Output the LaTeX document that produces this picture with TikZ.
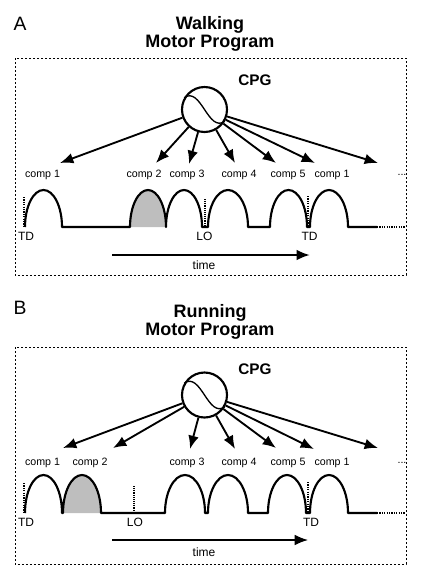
\documentclass[tikz,border=0pt]{standalone}
\usepackage{fontspec}
\setmainfont{Liberation Sans}
\usepackage{xcolor}
\usetikzlibrary{arrows.meta}

\begin{document}
\begin{tikzpicture}[x=0.75pt,y=0.75pt,yscale=-1,xscale=1,
  osc/.style={circle,draw,line width=1.6pt,minimum size=33.75pt,inner sep=0pt},
  fire/.style={-{Latex[length=10pt,width=8pt]},line width=1.4pt},
  trace/.style={line width=1.6pt,line join=round},
  frame/.style={dash pattern={on 1.8pt off 1.2pt},line width=0.7pt},
  tdmark/.style={dash pattern={on 0.9pt off 0.9pt},line width=1.6pt},
  lomark/.style={dash pattern={on 0.7pt off 0.7pt},line width=0.8pt},
  ttl/.style={font=\fontsize{13.5}{16}\selectfont\bfseries},
  pnl/.style={font=\fontsize{14.5}{16}\selectfont},
  cpg/.style={font=\fontsize{11.5}{13}\selectfont\bfseries},
  comp/.style={font=\fontsize{8}{9}\selectfont,inner sep=0.75pt},
  evt/.style={font=\fontsize{9}{10}\selectfont,inner sep=0.75pt}]
\useasboundingbox (0,0) rectangle (437,572);

%%%%%%%%%%%%%%%% Panel A
% Text Node
\node [pnl] (panA) at (20,24) {A};
\node [ttl] (ttlA1) at (210,25) {Walking};
\node [ttl] (ttlA2) at (210,43) {Motor Program};
%Dashed frame
\draw [frame] (15,58) rectangle (406,275);
% CPG
\node [cpg] (cpgtxtA) at (255,80.5) {CPG};
\node [osc] (cpgA) at (204.5,109.5) {};
\draw [line width=1pt] (cpgA.150) .. controls +(17,-12) and +(-17,12) .. (cpgA.-30);
% arrow tips
\coordinate (tipA1) at (60,163);
\coordinate (tipA2) at (156,163);
\coordinate (tipA3) at (189,164);
\coordinate (tipA4) at (235,163);
\coordinate (tipA5) at (276,163);
\coordinate (tipA6) at (315,163);
\coordinate (tipA7) at (378,163);
\draw [fire] (cpgA) -- (tipA1);
\draw [fire] (cpgA) -- (tipA2);
\draw [fire] (cpgA) -- (tipA3);
\draw [fire] (cpgA) -- (tipA4);
\draw [fire] (cpgA) -- (tipA5);
\draw [fire] (cpgA) -- (tipA6);
\draw [fire] (cpgA) -- (tipA7);
% comp labels
\node [comp] (compA1) at (42.5,175) {comp 1};
\node [comp] (compA2) at (144,175) {comp 2};
\node [comp] (compA3) at (187,175) {comp 3};
\node [comp] (compA4) at (239,175) {comp 4};
\node [comp] (compA5) at (288,175) {comp 5};
\node [comp] (compA6) at (332,175) {comp 1};
\node [comp] (dotsA) at (402,175) {...};
%Curve Lines (bursts)
\fill [color={rgb, 255:red, 190; green, 190; blue, 190}] (130,227) arc[start angle=180,end angle=360,x radius=18,y radius=37] -- cycle;
\draw [trace] (25,227) arc[start angle=180,end angle=360,x radius=18.5,y radius=37] -- (130,227)
  arc[start angle=180,end angle=360,x radius=18,y radius=37]
  arc[start angle=180,end angle=360,x radius=18,y radius=37] -- (208,227)
  arc[start angle=180,end angle=360,x radius=20,y radius=37] -- (270,227)
  arc[start angle=180,end angle=360,x radius=18.5,y radius=37] -- (310,227)
  arc[start angle=180,end angle=360,x radius=19,y radius=37] -- (377,227);
\draw [tdmark] (377,227) -- (405,227);
% event marks
\draw [tdmark] (24,197) -- (24,227);
\draw [lomark] (205,199) -- (205,227);
\draw [tdmark] (308,196) -- (308,227);
\node [evt] (tdA1) at (26,236) {TD};
\node [evt] (loA) at (204.5,236) {LO};
\node [evt] (tdA2) at (309.5,236) {TD};
% time
\coordinate (tA0) at (112,255);
\coordinate (tA1) at (310,255);
\draw [fire,line width=1.8pt] (tA0) -- (tA1);
\node [evt] (timeA) at (204,265) {time};

%%%%%%%%%%%%%%%% Panel B
% Text Node
\node [pnl] (panB) at (20,308) {B};
\node [ttl] (ttlB1) at (210,313) {Running};
\node [ttl] (ttlB2) at (210,331) {Motor Program};
%Dashed frame
\draw [frame] (15,347) rectangle (406,564);
% CPG
\node [cpg] (cpgtxtB) at (255,369) {CPG};
\node [osc] (cpgB) at (204.5,395) {};
\draw [line width=1pt] (cpgB.150) .. controls +(17,-12) and +(-17,12) .. (cpgB.-30);
% arrow tips
\coordinate (tipB1) at (63,448);
\coordinate (tipB2) at (113,448);
\coordinate (tipB3) at (190,449);
\coordinate (tipB4) at (235,449);
\coordinate (tipB5) at (276,448);
\coordinate (tipB6) at (314,449);
\coordinate (tipB7) at (378,448);
\draw [fire] (cpgB) -- (tipB1);
\draw [fire] (cpgB) -- (tipB2);
\draw [fire] (cpgB) -- (tipB3);
\draw [fire] (cpgB) -- (tipB4);
\draw [fire] (cpgB) -- (tipB5);
\draw [fire] (cpgB) -- (tipB6);
\draw [fire] (cpgB) -- (tipB7);
% comp labels
\node [comp] (compB1) at (42.5,463) {comp 1};
\node [comp] (compB2) at (90,463) {comp 2};
\node [comp] (compB3) at (187,463) {comp 3};
\node [comp] (compB4) at (239,463) {comp 4};
\node [comp] (compB5) at (288,463) {comp 5};
\node [comp] (compB6) at (332,463) {comp 1};
\node [comp] (dotsB) at (402,463) {...};
%Curve Lines (bursts)
\fill [color={rgb, 255:red, 190; green, 190; blue, 190}] (63,513) arc[start angle=180,end angle=360,x radius=19,y radius=38] -- cycle;
\draw [trace] (25,513) arc[start angle=180,end angle=360,x radius=18.5,y radius=38] -- (63,513)
  arc[start angle=180,end angle=360,x radius=19,y radius=38] -- (165,513)
  arc[start angle=180,end angle=360,x radius=20,y radius=38] -- (208,513)
  arc[start angle=180,end angle=360,x radius=20,y radius=38] -- (268,513)
  arc[start angle=180,end angle=360,x radius=19,y radius=38] -- (310,513)
  arc[start angle=180,end angle=360,x radius=19,y radius=38] -- (377,513);
\draw [tdmark] (377,513) -- (405,513);
% event marks
\draw [tdmark] (24,483) -- (24,513);
\draw [lomark] (134,486) -- (134,513);
\draw [tdmark] (308,482) -- (308,513);
\node [evt] (tdB1) at (26,522.5) {TD};
\node [evt] (loB) at (135,522.5) {LO};
\node [evt] (tdB2) at (311,522.5) {TD};
% time
\coordinate (tB0) at (112,540);
\coordinate (tB1) at (308,540);
\draw [fire,line width=1pt] (tB0) -- (tB1);
\node [evt] (timeB) at (204,552) {time};

\end{tikzpicture}
\end{document}
